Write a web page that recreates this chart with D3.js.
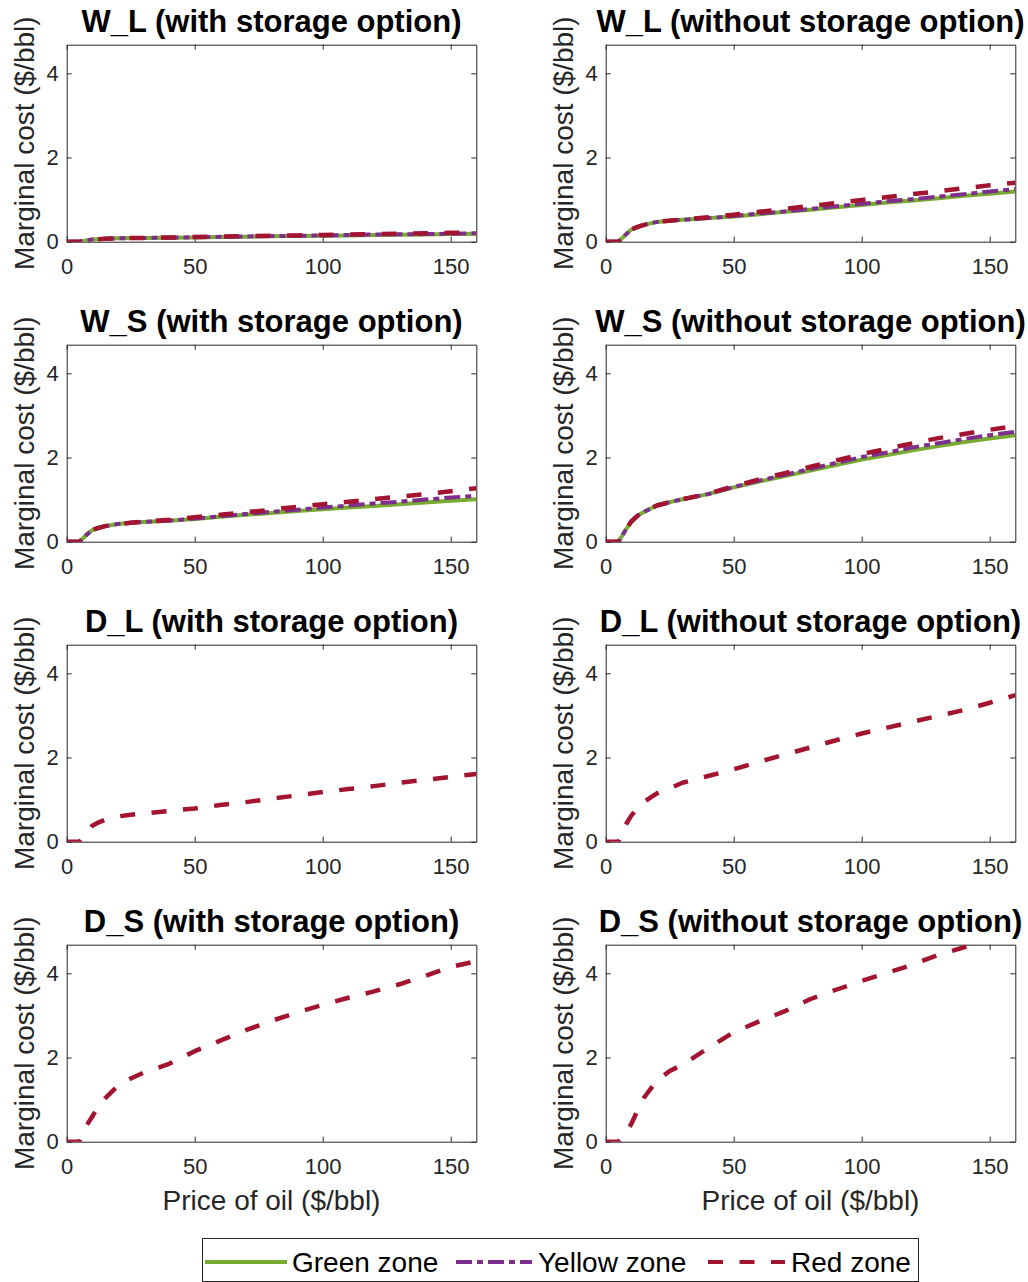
<!DOCTYPE html>
<html><head><meta charset="utf-8">
<script src="https://cdn.jsdelivr.net/npm/d3@7"></script>
<style>
body{margin:0;background:#fff;}
text{font-family:"Liberation Sans",Arial,Helvetica,sans-serif;}
</style>
</head><body>
<svg id="chart" width="1028" height="1282"></svg>
<script>
// ---------- data ----------
const priceOfOil = [0, 5, 7.5, 10, 12.5, 15, 20, 25, 30, 40, 50, 60, 70, 80, 90, 100, 110, 120, 130, 140, 150, 160];

const panelTitles = [
  "W_L (with storage option)", "W_L (without storage option)",
  "W_S (with storage option)", "W_S (without storage option)",
  "D_L (with storage option)", "D_L (without storage option)",
  "D_S (with storage option)", "D_S (without storage option)"
];

const zoneNames = ["Green zone", "Yellow zone", "Red zone"];
const xTickValues = [0, 50, 100, 150];
const yTickValues = [0, 2, 4];
const xAxisLabel = "Price of oil ($/bbl)";
const yAxisLabel = "Marginal cost ($/bbl)";

// W_L with storage
const wlWithGreen  = [0,0,0.03,0.05,0.06,0.07,0.08,0.085,0.09,0.095,0.10,0.11,0.12,0.13,0.135,0.14,0.15,0.16,0.165,0.17,0.18,0.19];
const wlWithYellow = [0,0,0.03,0.05,0.06,0.07,0.08,0.085,0.09,0.095,0.105,0.115,0.125,0.135,0.14,0.15,0.16,0.17,0.175,0.18,0.19,0.20];
const wlWithRed    = [0,0,0.03,0.05,0.06,0.07,0.08,0.085,0.09,0.10,0.11,0.12,0.13,0.14,0.15,0.16,0.17,0.18,0.19,0.20,0.21,0.22];
// W_L without storage
const wlWithoutGreen  = [0,0,0.15,0.29,0.35,0.40,0.47,0.50,0.52,0.56,0.60,0.65,0.71,0.76,0.82,0.87,0.93,0.98,1.03,1.09,1.14,1.19];
const wlWithoutYellow = [0,0,0.15,0.29,0.35,0.40,0.47,0.50,0.52,0.56,0.61,0.67,0.72,0.78,0.84,0.90,0.96,1.01,1.07,1.13,1.19,1.25];
const wlWithoutRed    = [0,0,0.15,0.29,0.35,0.40,0.47,0.50,0.53,0.58,0.64,0.71,0.78,0.85,0.92,0.99,1.06,1.13,1.20,1.27,1.34,1.40];
// W_S with storage
const wsWithGreen  = [0,0,0.15,0.28,0.33,0.37,0.42,0.45,0.47,0.50,0.54,0.59,0.64,0.68,0.73,0.77,0.81,0.85,0.89,0.93,0.97,1.01];
const wsWithYellow = [0,0,0.15,0.28,0.33,0.37,0.42,0.45,0.47,0.50,0.55,0.60,0.66,0.71,0.76,0.81,0.86,0.91,0.95,1.00,1.05,1.09];
const wsWithRed    = [0,0,0.15,0.28,0.33,0.37,0.42,0.45,0.48,0.52,0.58,0.64,0.70,0.76,0.83,0.89,0.95,1.01,1.07,1.13,1.20,1.27];
// W_S without storage
const wsWithoutGreen  = [0,0,0.25,0.48,0.62,0.71,0.86,0.94,1.01,1.13,1.29,1.43,1.56,1.69,1.82,1.95,2.06,2.17,2.27,2.37,2.45,2.53];
const wsWithoutYellow = [0,0,0.25,0.48,0.62,0.71,0.86,0.94,1.01,1.13,1.30,1.45,1.59,1.73,1.87,2.01,2.12,2.24,2.34,2.44,2.53,2.61];
const wsWithoutRed    = [0,0,0.25,0.48,0.62,0.71,0.86,0.94,1.01,1.14,1.32,1.48,1.63,1.78,1.93,2.08,2.21,2.34,2.46,2.56,2.66,2.75];
// D_L
const dlWithRed    = [0,0,0.18,0.38,0.46,0.52,0.60,0.64,0.67,0.73,0.79,0.87,0.94,1.02,1.10,1.18,1.25,1.32,1.40,1.47,1.54,1.61];
const dlWithoutRed = [0,0,0.37,0.62,0.80,0.95,1.15,1.27,1.40,1.56,1.72,1.90,2.07,2.24,2.41,2.57,2.71,2.85,2.99,3.13,3.30,3.48];
// D_S
const dsWithRed    = [0,0,0.36,0.60,0.85,1.03,1.33,1.50,1.64,1.85,2.15,2.40,2.65,2.87,3.07,3.25,3.42,3.57,3.74,3.94,4.15,4.29];
const dsWithoutRed = [0,0,0.18,0.42,0.75,1.05,1.45,1.68,1.83,2.22,2.60,2.86,3.10,3.39,3.61,3.82,4.01,4.21,4.44,4.62,4.79,4.95];

// panel series (null = zone not plotted)
const panelSeries = [
  [wlWithGreen, wlWithYellow, wlWithRed],
  [wlWithoutGreen, wlWithoutYellow, wlWithoutRed],
  [wsWithGreen, wsWithYellow, wsWithRed],
  [wsWithoutGreen, wsWithoutYellow, wsWithoutRed],
  [null, null, dlWithRed],
  [null, null, dlWithoutRed],
  [null, null, dsWithRed],
  [null, null, dsWithoutRed]
];

// ---------- styling / layout ----------
const zoneColors = ["#77AC30", "#7E2F8E", "#A2142F"];
const zoneDash = [null, "16,5,6,5", "15,16.5"];
const zoneWidth = [4, 4, 4.5];
const axisColor = "#262626";

const colLeft = [66.7, 605.7];
const rowBottom = [241.7, 541.7, 841.7, 1141.7];
const plotW = 409.6, plotH = 197;

const svg = d3.select("#chart");

const x = d3.scaleLinear().domain([0, 160]).range([0, plotW]);
const y = d3.scaleLinear().domain([0, 4.68]).range([plotH, 0]);

panelTitles.forEach((title, i) => {
  const col = i % 2, row = Math.floor(i / 2);
  const left = colLeft[col], top = rowBottom[row] - plotH;
  const g = svg.append("g").attr("transform", `translate(${left},${top})`);

  g.append("clipPath").attr("id", "clip" + i)
    .append("rect").attr("x", 0).attr("y", 0).attr("width", plotW).attr("height", plotH);

  // axes
  const ax = (sel) => {
    sel.selectAll("path.domain").attr("stroke", axisColor).attr("stroke-width", 1);
    sel.selectAll(".tick line").attr("stroke", axisColor).attr("stroke-width", 1);
    sel.selectAll("text").attr("fill", axisColor).style("font-size", "22px")
      .style("font-family", '"Liberation Sans",Arial,sans-serif');
  };
  g.append("g").attr("transform", `translate(0,${plotH})`)
    .call(d3.axisBottom(x).tickValues(xTickValues).tickSizeInner(-5).tickSizeOuter(0).tickPadding(17).tickFormat(d3.format("d")))
    .call(ax);
  g.append("g")
    .call(d3.axisTop(x).tickValues(xTickValues).tickSizeInner(-5).tickSizeOuter(0).tickFormat(""))
    .call(ax);
  g.append("g")
    .call(d3.axisLeft(y).tickValues(yTickValues).tickSizeInner(-5).tickSizeOuter(0).tickPadding(8).tickFormat(d3.format("d")))
    .call(ax);
  g.append("g").attr("transform", `translate(${plotW},0)`)
    .call(d3.axisRight(y).tickValues(yTickValues).tickSizeInner(-5).tickSizeOuter(0).tickFormat(""))
    .call(ax);
  g.selectAll(".domain").attr("fill", "none");

  // lines
  const line = d3.line().x((d, k) => x(priceOfOil[k])).y(d => y(d));
  const lg = g.append("g").attr("clip-path", `url(#clip${i})`);
  panelSeries[i].forEach((vals, z) => {
    if (!vals) return;
    lg.append("path").datum(vals)
      .attr("d", line)
      .attr("fill", "none")
      .attr("stroke", zoneColors[z])
      .attr("stroke-width", zoneWidth[z])
      .attr("stroke-dasharray", zoneDash[z])
      .attr("stroke-linejoin", "round");
  });

  // title
  g.append("text").attr("x", plotW / 2).attr("y", -13)
    .attr("text-anchor", "middle").style("font-size", "31px").style("font-weight", "bold")
    .attr("fill", "#000").text(title);

  // y label
  g.append("text")
    .attr("transform", `translate(-33,${plotH / 2}) rotate(-90)`)
    .attr("text-anchor", "middle").style("font-size", "28px").attr("fill", axisColor)
    .text(yAxisLabel);

  // x label (bottom row only)
  if (row === 3) {
    g.append("text").attr("x", plotW / 2).attr("y", plotH + 68)
      .attr("text-anchor", "middle").style("font-size", "28px").attr("fill", axisColor)
      .text(xAxisLabel);
  }
});

// ---------- legend ----------
const legend = svg.append("g");
legend.append("rect").attr("x", 202.5).attr("y", 1238.5).attr("width", 716).attr("height", 43)
  .attr("fill", "#fff").attr("stroke", axisColor).attr("stroke-width", 1);
const legendLineX = [[205, 287], [456, 532], [708, 785]];
const legendTextX = [292, 538, 791];
zoneNames.forEach((name, z) => {
  legend.append("line")
    .attr("x1", legendLineX[z][0]).attr("x2", legendLineX[z][1])
    .attr("y1", 1262).attr("y2", 1262)
    .attr("stroke", zoneColors[z]).attr("stroke-width", 4)
    .attr("stroke-dasharray", zoneDash[z]);
  legend.append("text").attr("x", legendTextX[z]).attr("y", 1272)
    .style("font-size", "28px").attr("fill", "#000").text(name);
});
</script>
</body></html>
